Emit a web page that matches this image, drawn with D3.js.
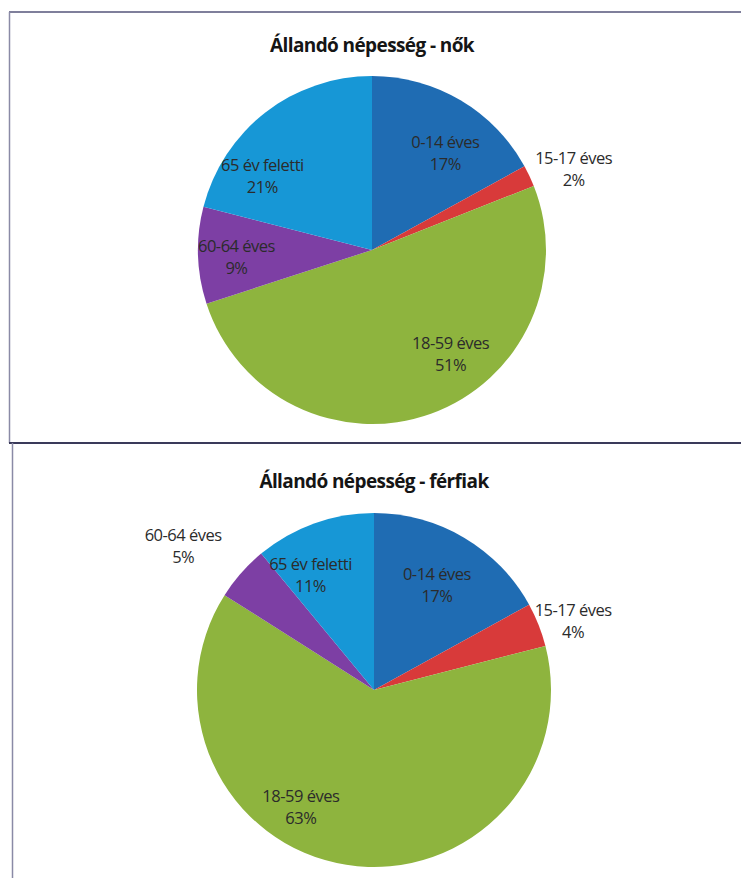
<!DOCTYPE html>
<meta charset="utf-8">
<style>
body { margin: 0; background: #fff; }
text { font-family: "Open Sans", "DejaVu Sans", sans-serif; }
.title { font-weight: bold; font-size: 19px; fill: #151515; letter-spacing: -0.6px; }
.lbl { font-size: 16.5px; fill: #2b2b2b; letter-spacing: -0.5px; }
</style>
<body>
<script src="https://d3js.org/d3.v7.min.js"></script>
<script>

var width = 741,
    height = 878;

// data
var categories = ["0-14 éves", "15-17 éves", "18-59 éves", "60-64 éves", "65 év feletti"];
var noValues = [17, 2, 51, 9, 21];
var ferfiValues = [17, 4, 63, 5, 11];
var titles = ["Állandó népesség - nők", "Állandó népesség - férfiak"];

var colors = ["#1f6cb3", "#d83a3a", "#8eb43e", "#7d3fa4", "#1797d6"];

// label placement: [angle in degrees from 12 o'clock, distance as fraction of radius]
var labelPlaceNo = [[37, 0.70], [68, 1.25], [143, 0.75], [267, 0.78], [304, 0.76]];
var labelPlaceFerfi = [[31, 0.69], [71, 1.19], [212, 0.78], [307, 1.35], [331, 0.74]];

var svg = d3.select("body").append("svg")
    .attr("width", width)
    .attr("height", height);

// frames
svg.append("line").attr("x1", 9).attr("x2", width).attr("y1", 12).attr("y2", 12)
    .style("stroke", "#55557a").style("stroke-width", 1.5);
svg.append("line").attr("x1", 9.5).attr("x2", 9.5).attr("y1", 12).attr("y2", 443)
    .style("stroke", "#8a8aa6").style("stroke-width", 1.5);
svg.append("line").attr("x1", 9).attr("x2", width).attr("y1", 443).attr("y2", 443)
    .style("stroke", "#3a3a5a").style("stroke-width", 2);
svg.append("line").attr("x1", 12.5).attr("x2", 12.5).attr("y1", 443).attr("y2", height)
    .style("stroke", "#8a8aa6").style("stroke-width", 1.5);

var pie = d3.pie().sort(null).value(function(d) { return d; });

function drawPie(values, title, cx, cy, r, titleY, place) {
  var g = svg.append("g");

  g.append("text")
      .attr("class", "title")
      .attr("x", cx)
      .attr("y", titleY)
      .attr("text-anchor", "middle")
      .text(title);

  var arc = d3.arc().innerRadius(0).outerRadius(r);
  var chart = g.append("g").attr("transform", "translate(" + cx + "," + cy + ")");

  chart.selectAll("path")
      .data(pie(values))
      .enter()
      .append("path")
      .attr("d", arc)
      .style("fill", function(d, i) { return colors[i]; })
      .style("stroke", "none");

  var labels = chart.selectAll("g.lblg")
      .data(pie(values))
      .enter()
      .append("g")
      .attr("class", "lblg")
      .attr("transform", function(d, i) {
        var a = place[i][0] * Math.PI / 180,
            dist = place[i][1] * r;
        return "translate(" + (Math.sin(a) * dist) + "," + (-Math.cos(a) * dist) + ")";
      });

  labels.append("text")
      .attr("class", "lbl")
      .attr("text-anchor", "middle")
      .attr("y", -5)
      .text(function(d, i) { return categories[i]; });

  labels.append("text")
      .attr("class", "lbl")
      .attr("text-anchor", "middle")
      .attr("y", 17)
      .text(function(d) { return d.data + "%"; });
}

drawPie(noValues, titles[0], 372, 250, 174, 52, labelPlaceNo);
drawPie(ferfiValues, titles[1], 374, 690, 177, 488, labelPlaceFerfi);

</script>
